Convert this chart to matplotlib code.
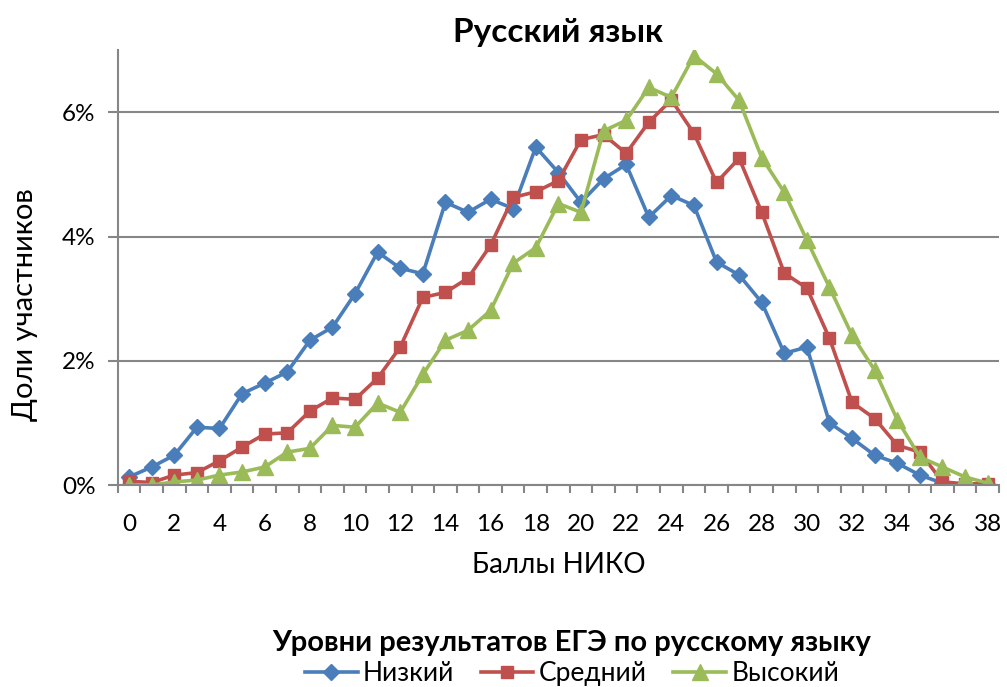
import matplotlib.pyplot as plt
from matplotlib.ticker import FuncFormatter

plt.rcParams['font.family'] = ['Lato', 'Open Sans', 'DejaVu Sans']

# баллы НИКО
scores = list(range(39))

# доли участников, %
low = [0.13, 0.29, 0.48, 0.93, 0.91, 1.47, 1.64, 1.82, 2.33, 2.54,
       3.08, 3.75, 3.49, 3.40, 4.55, 4.39, 4.60, 4.45, 5.44, 5.03,
       4.55, 4.93, 5.16, 4.31, 4.66, 4.50, 3.59, 3.38, 2.94, 2.12,
       2.22, 1.00, 0.75, 0.48, 0.35, 0.16, 0.03, 0.0, 0.0]
mid = [0.06, 0.04, 0.16, 0.20, 0.39, 0.61, 0.82, 0.84, 1.19, 1.40,
       1.38, 1.72, 2.22, 3.02, 3.10, 3.33, 3.86, 4.63, 4.72, 4.90,
       5.56, 5.64, 5.34, 5.84, 6.20, 5.66, 4.87, 5.26, 4.39, 3.41,
       3.17, 2.36, 1.33, 1.07, 0.64, 0.53, 0.05, 0.02, 0.02]
high = [0.0, 0.0, 0.05, 0.08, 0.16, 0.21, 0.29, 0.53, 0.59, 0.96,
        0.93, 1.32, 1.17, 1.78, 2.33, 2.49, 2.81, 3.57, 3.82, 4.53,
        4.39, 5.70, 5.87, 6.40, 6.24, 6.91, 6.62, 6.19, 5.27, 4.71,
        3.94, 3.18, 2.41, 1.85, 1.05, 0.45, 0.29, 0.13, 0.03]

labels = ['Низкий', 'Средний', 'Высокий']

fig = plt.figure(figsize=(10.07, 6.87), dpi=100)
ax = fig.add_axes([0.117, 0.294, 0.875, 0.633])

ax.plot(scores, low, color='#4a7ebb', lw=2.6, marker='D', ms=8.5, label=labels[0])
ax.plot(scores, mid, color='#c0504d', lw=2.6, marker='s', ms=9, label=labels[1])
ax.plot(scores, high, color='#9bbb59', lw=2.6, marker='^', ms=11, label=labels[2])

ax.set_xlim(-0.5, 38.5)
ax.set_ylim(0, 7)
ax.set_yticks([0, 2, 4, 6])
ax.yaxis.set_major_formatter(FuncFormatter(lambda v, p: '%d%%' % v))
ax.set_xticks(range(0, 39, 2))
ax.set_xticks([i - 0.5 for i in range(40)], minor=True)
ax.tick_params(axis='x', which='major', length=0, labelsize=17.5, pad=21)
ax.tick_params(axis='x', which='minor', length=6, color='#868686', width=1.5)
ax.tick_params(axis='y', length=7, color='#868686', width=1.5, labelsize=17.5, pad=9)

ax.grid(axis='y', color='#868686', lw=1.5)
ax.set_axisbelow(True)
for s in ['top', 'right']:
    ax.spines[s].set_visible(False)
for s in ['left', 'bottom']:
    ax.spines[s].set_color('#868686')
    ax.spines[s].set_linewidth(1.5)

ax.set_title('Русский язык', fontsize=24, fontweight='bold', pad=6)
ax.set_ylabel('Доли участников', fontsize=21)
ax.yaxis.set_label_coords(-0.091, 0.414)
ax.set_xlabel('Баллы НИКО', fontsize=20, labelpad=12)

leg = fig.legend(loc='center', bbox_to_anchor=(0.568, 0.042), ncol=3, frameon=False,
                 fontsize=19, title='Уровни результатов ЕГЭ по русскому языку',
                 handlelength=2.0, columnspacing=1.0, handletextpad=0.2,
                 labelspacing=0.2)
leg.get_title().set_fontsize(21)
leg.get_title().set_fontweight('bold')

fig.savefig('out.png', dpi=100)
